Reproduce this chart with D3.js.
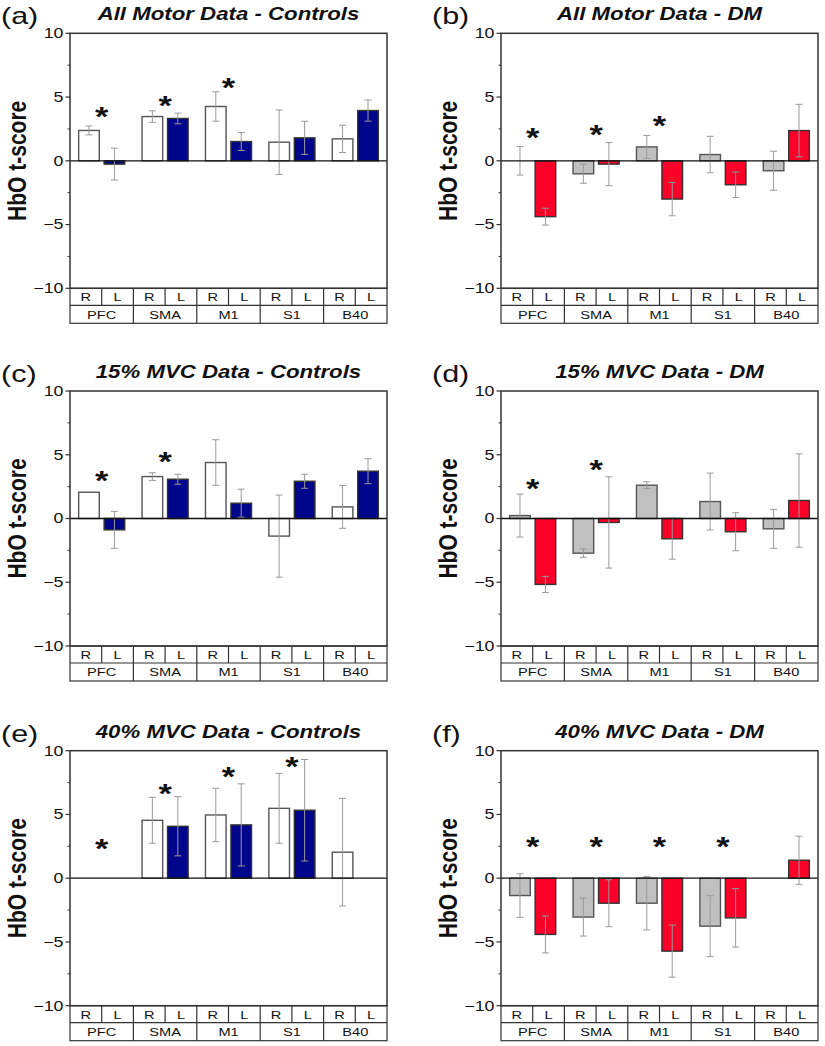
<!DOCTYPE html>
<html>
<head>
<meta charset="utf-8">
<script src="https://cdn.jsdelivr.net/npm/d3@7"></script>
<style>
  body { margin: 0; background: #fff; }
  svg { display: block; }
  text { font-family: "Liberation Sans", Arial, sans-serif; fill: #111; }
</style>
</head>
<body>
<div id="chart"></div>
<script>
// Six HbO t-score bar panels (R/L hemisphere per region), 3 rows x 2 columns.
const regions = ['PFC', 'SMA', 'M1', 'S1', 'B40'];
const sides = ['R', 'L'];
const yTicks = [-10, -5, 0, 5, 10];
const yMinor = [-7.5, -2.5, 2.5, 7.5];

const panelLetters = ['(a)', '(b)', '(c)', '(d)', '(e)', '(f)'];
const panelTitles = [
  'All Motor Data - Controls', 'All Motor Data - DM',
  '15% MVC Data - Controls', '15% MVC Data - DM',
  '40% MVC Data - Controls', '40% MVC Data - DM'
];
const panelGroup = ['ctrl', 'dm', 'ctrl', 'dm', 'ctrl', 'dm'];

// (a) all motor, controls
const aR = [2.38, 3.47, 4.26, 1.46, 1.72];
const aRErr = [0.35, 0.45, 1.15, 2.53, 1.07];
const aL = [-0.26, 3.32, 1.51, 1.80, 3.94];
const aLErr = [1.25, 0.42, 0.70, 1.30, 0.83];
const aStars = [4.0, 4.9, 6.27, null, null];
// (b) all motor, DM
const bR = [0.0, -1.02, 1.09, 0.49, -0.78];
const bRErr = [1.12, 0.74, 0.90, 1.43, 1.53];
const bL = [-4.38, -0.26, -3.00, -1.88, 2.37];
const bLErr = [0.66, 1.69, 1.31, 1.00, 2.06];
const bStars = [2.34, 2.6, 3.33, null, null];
// (c) 15% MVC, controls
const cR = [2.06, 3.29, 4.39, -1.38, 0.91];
const cRErr = [0, 0.30, 1.79, 3.22, 1.68];
const cL = [-0.89, 3.08, 1.20, 2.92, 3.71];
const cLErr = [1.45, 0.39, 1.10, 0.55, 0.98];
const cStars = [3.47, 4.99, null, null, null];
// (d) 15% MVC, DM
const dR = [0.23, -2.72, 2.61, 1.33, -0.81];
const dRErr = [1.68, 0.33, 0.27, 2.23, 1.53];
const dL = [-5.17, -0.31, -1.59, -1.04, 1.41];
const dLErr = [0.63, 3.58, 1.60, 1.49, 3.66];
const dStars = [2.9, 4.33, null, null, null];
// (e) 40% MVC, controls
const eR = [null, 4.54, 4.96, 5.48, 2.04];
const eRErr = [null, 1.80, 2.09, 2.74, 4.22];
const eL = [null, 4.07, 4.18, 5.33, null];
const eLErr = [null, 2.32, 3.22, 3.98, null];
const eStars = [2.87, 7.13, 8.49, 9.32, null];
// (f) 40% MVC, DM
const fR = [-1.36, -3.05, -1.96, -3.76, null];
const fRErr = [1.71, 1.49, 2.10, 2.39, null];
const fL = [-4.41, -1.96, -5.72, -3.11, 1.41];
const fLErr = [1.45, 1.84, 2.04, 2.29, 1.89];
const fStars = [3.0, 3.0, 3.0, 3.0, null];

const panelData = [
  [aR, aRErr, aL, aLErr, aStars],
  [bR, bRErr, bL, bLErr, bStars],
  [cR, cRErr, cL, cLErr, cStars],
  [dR, dRErr, dL, dLErr, dStars],
  [eR, eRErr, eL, eLErr, eStars],
  [fR, fRErr, fL, fLErr, fStars]
];

const colors = {
  ctrl: { R: '#ffffff', L: '#00058c' },
  dm: { R: '#c0c0c0', L: '#fb0028' }
};

// layout
const W = 825, H = 1046;
const colLeft = [70, 501];
const plotW = 317;
const rowTop = [33.3, 391, 750.7];
const plotH = 255;
const catRow1 = 17, catRow2 = 18;
const SX = 1.27; // the source figure is stretched horizontally

const svg = d3.select('#chart').append('svg')
  .attr('width', W)
  .attr('height', H);

function addText(sel, x, y, str, size, opts = {}) {
  return sel.append('text')
    .attr('transform', `translate(${x},${y}) scale(${SX},1)` + (opts.rotate ? ` rotate(${opts.rotate})` : ''))
    .attr('text-anchor', opts.anchor || 'middle')
    .attr('dominant-baseline', opts.baseline || 'auto')
    .attr('font-size', size)
    .attr('font-weight', opts.weight || 'normal')
    .attr('font-style', opts.style || 'normal')
    .text(str);
}

panelData.forEach((pd, i) => {
  const [vR, eRv, vL, eLv, stars] = pd;
  const left = colLeft[i % 2];
  const top = rowTop[Math.floor(i / 2)];
  const pal = colors[panelGroup[i]];

  const g = svg.append('g').attr('transform', `translate(${left},${top})`);

  const x0 = d3.scaleBand().domain(regions).range([0, plotW]);
  const x1 = d3.scaleBand().domain(sides).range([0, x0.bandwidth()])
    .paddingInner(0.19).paddingOuter(0.34);
  const y = d3.scaleLinear().domain([-10, 10]).range([plotH, 0]);

  // letter + title
  addText(g, -69, -9, panelLetters[i], 24, { anchor: 'start' });
  addText(g, plotW / 2, -13, panelTitles[i], 17.5, { weight: 'bold', style: 'italic' });

  // y label
  addText(g, -53, plotH / 2, 'HbO t-score', 21, { weight: 'bold', rotate: -90, baseline: 'central' });

  // y axis ticks
  const ax = g.append('g');
  ax.selectAll('line.major').data(yTicks).join('line')
    .attr('class', 'major')
    .attr('x1', -4.5).attr('x2', 0)
    .attr('y1', d => y(d)).attr('y2', d => y(d))
    .attr('stroke', '#333').attr('stroke-width', 1.2);
  ax.selectAll('line.minor').data(yMinor).join('line')
    .attr('class', 'minor')
    .attr('x1', -2.5).attr('x2', 0)
    .attr('y1', d => y(d)).attr('y2', d => y(d))
    .attr('stroke', '#333').attr('stroke-width', 1);
  yTicks.forEach(t => {
    addText(ax, -6.5, y(t), t < 0 ? '\u2212' + Math.abs(t) : String(t), 14, { anchor: 'end', baseline: 'central' });
  });

  // bars
  const bars = [];
  regions.forEach((r, k) => {
    bars.push({ region: r, side: 'R', v: vR[k], e: eRv[k] });
    bars.push({ region: r, side: 'L', v: vL[k], e: eLv[k] });
  });
  const shown = bars.filter(b => b.v !== null);

  g.selectAll('rect.bar').data(shown).join('rect')
    .attr('class', 'bar')
    .attr('x', d => x0(d.region) + x1(d.side))
    .attr('width', x1.bandwidth())
    .attr('y', d => y(Math.max(0, d.v)))
    .attr('height', d => Math.abs(y(d.v) - y(0)))
    .attr('fill', d => pal[d.side])
    .attr('stroke', d => d.side === 'L' ? '#333' : '#555')
    .attr('stroke-width', 1.4);

  // error bars
  const eb = shown.filter(b => b.e);
  const cx = d => x0(d.region) + x1(d.side) + x1.bandwidth() / 2;
  const capW = 3.5;
  const errG = g.append('g').attr('stroke', '#9a9a9a').attr('stroke-width', 1);
  errG.selectAll('line.v').data(eb).join('line')
    .attr('x1', cx).attr('x2', cx)
    .attr('y1', d => y(d.v + d.e)).attr('y2', d => y(d.v - d.e));
  errG.selectAll('line.t').data(eb).join('line')
    .attr('x1', d => cx(d) - capW).attr('x2', d => cx(d) + capW)
    .attr('y1', d => y(d.v + d.e)).attr('y2', d => y(d.v + d.e));
  errG.selectAll('line.b').data(eb).join('line')
    .attr('x1', d => cx(d) - capW).attr('x2', d => cx(d) + capW)
    .attr('y1', d => y(d.v - d.e)).attr('y2', d => y(d.v - d.e));

  // zero line
  g.append('line')
    .attr('x1', 0).attr('x2', plotW)
    .attr('y1', y(0)).attr('y2', y(0))
    .attr('stroke', '#111').attr('stroke-width', 1.3);

  // significance stars
  regions.forEach((r, k) => {
    if (stars[k] === null) return;
    const fs = 27;
    addText(g, x0(r) + x0.bandwidth() / 2, y(stars[k]) + 0.6 * fs, '*', fs, { weight: 'bold' });
  });

  // frame
  g.append('rect')
    .attr('x', 0).attr('y', 0).attr('width', plotW).attr('height', plotH)
    .attr('fill', 'none').attr('stroke', '#333').attr('stroke-width', 1.5);

  // category boxes
  const cat = g.append('g').attr('transform', `translate(0,${plotH})`);
  cat.append('rect')
    .attr('x', 0).attr('y', 0).attr('width', plotW).attr('height', catRow1 + catRow2)
    .attr('fill', 'none').attr('stroke', '#333').attr('stroke-width', 1.2);
  cat.append('line')
    .attr('x1', 0).attr('x2', plotW).attr('y1', catRow1).attr('y2', catRow1)
    .attr('stroke', '#333').attr('stroke-width', 1.2);
  regions.forEach((r, k) => {
    const gx = x0(r);
    if (k > 0) {
      cat.append('line').attr('x1', gx).attr('x2', gx).attr('y1', 0).attr('y2', catRow1 + catRow2)
        .attr('stroke', '#333').attr('stroke-width', 1.2);
    }
    const mid = gx + x0.bandwidth() / 2;
    cat.append('line').attr('x1', mid).attr('x2', mid).attr('y1', 0).attr('y2', catRow1)
      .attr('stroke', '#333').attr('stroke-width', 1.2);
    sides.forEach((s, j) => {
      addText(cat, gx + x0.bandwidth() * (j * 2 + 1) / 4, catRow1 / 2 + 0.5, s, 11.5, { baseline: 'central' });
    });
    addText(cat, mid, catRow1 + catRow2 / 2 + 0.5, r, 11.5, { baseline: 'central' });
  });
});
</script>
</body>
</html>
